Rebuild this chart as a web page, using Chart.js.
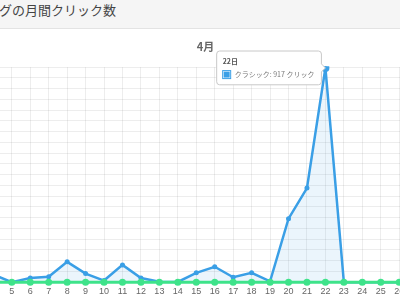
<!DOCTYPE html>
<html lang="ja">
<head>
<meta charset="UTF-8">
<title>ブログの月間クリック数</title>
<style>
  html, body { margin: 0; padding: 0; }
  body { width: 400px; height: 300px; overflow: hidden; position: relative; background: #fff;
         font-family: "Noto Sans CJK JP", "Noto Sans", sans-serif; }
  .panel-heading { position: absolute; left: 0; top: 0; width: 400px; height: 28px;
         background: #f5f5f5; border-bottom: 1px solid #e3e3e3; }
  .panel-heading h3 { position: absolute; left: -27px; top: 0; margin: 0; font-size: 13px;
         line-height: 19px; font-weight: normal; color: #444; white-space: nowrap; }
  #chart { position: absolute; left: -72px; top: 32px; }
</style>
<script src="https://cdn.jsdelivr.net/npm/chart.js"></script>
</head>
<body>
  <div class="panel-heading"><h3>ブログの月間クリック数</h3></div>
  <canvas id="chart" width="555" height="273"></canvas>

<script>
  // April, day by day
  const days = ['1','2','3','4','5','6','7','8','9','10','11','12','13','14','15',
                '16','17','18','19','20','21','22','23','24','25','26','27','28','29','30'];
  const classicClicks = [10, 5, 20, 33, 0, 18, 23, 87, 37, 7, 74, 18, 2, 1, 40,
                         66, 21, 40, 4, 272, 403, 917, 0, 0, 0, 0, 0, 0, 0, 0];
  const otherClicks = [0, 0, 0, 0, 0, 0, 0, 0, 0, 0, 0, 0, 0, 0, 0,
                       0, 0, 0, 0, 0, 0, 0, 0, 0, 0, 0, 0, 0, 0, 0];

  const blue = '#3a9fe6';
  const green = '#3ee38a';
  const gridColor = 'rgba(0,0,0,0.07)';
  const jp = '"Noto Sans CJK JP", sans-serif';

  const ctx = document.getElementById('chart').getContext('2d');
  const chart = new Chart(ctx, {
    type: 'line',
    data: {
      labels: days,
      datasets: [
        {
          label: 'その他',
          data: otherClicks,
          borderColor: green,
          backgroundColor: green,
          borderWidth: 3,
          pointRadius: 3.5,
          pointBorderWidth: 0,
          pointBackgroundColor: green,
          fill: false,
          tension: 0,
          clip: false
        },
        {
          label: 'クラシック',
          data: classicClicks,
          borderColor: blue,
          backgroundColor: 'rgba(58,159,230,0.1)',
          borderWidth: 2.5,
          pointRadius: 2.5,
          pointBorderWidth: 0,
          pointBackgroundColor: blue,
          pointHoverRadius: 4,
          pointHoverBorderWidth: 0,
          pointHoverBackgroundColor: blue,
          fill: 'origin',
          tension: 0,
          clip: { left: false, top: 1, right: false, bottom: false }
        }
      ]
    },
    options: {
      responsive: false,
      animation: false,
      layout: { padding: { left: 10, right: 10, top: 0, bottom: 4 } },
      plugins: {
        legend: { display: false },
        title: {
          display: true,
          text: '4月',
          color: '#666',
          font: { size: 11, weight: 'bold', family: jp },
          padding: { top: 8, bottom: 14 }
        },
        tooltip: {
          xAlign: 'right',
          yAlign: 'center',
          backgroundColor: '#fff',
          borderColor: '#c8c8c8',
          borderWidth: 1,
          cornerRadius: 3,
          caretSize: 4,
          caretPadding: 0,
          padding: { left: 6, right: 7, top: 6, bottom: 6 },
          titleColor: '#555',
          bodyColor: '#777',
          titleFont: { size: 7, weight: 'bold', family: jp },
          bodyFont: { size: 7, family: jp },
          titleMarginBottom: 5,
          boxWidth: 8,
          boxHeight: 8,
          boxPadding: 2,
          callbacks: {
            title: items => items[0].label + '日',
            label: item => item.dataset.label + ': ' + item.raw + ' クリック',
            labelColor: () => ({ borderColor: blue, backgroundColor: blue, borderWidth: 0 })
          }
        }
      },
      scales: {
        x: {
          grid: { color: gridColor, drawTicks: false },
          border: { display: false },
          ticks: { color: '#666', font: { size: 9 }, padding: 4, maxRotation: 0, autoSkip: false }
        },
        y: {
          min: 0,
          max: 920,
          grid: { color: gridColor, drawTicks: false },
          border: { display: false },
          ticks: { display: false, stepSize: 46 }
        }
      }
    }
  });

  // hovered point on the 22nd, as in the screenshot
  const active = [{ datasetIndex: 1, index: 21 }];
  const pt = chart.getDatasetMeta(1).data[21];
  chart.setActiveElements(active);
  chart.tooltip.setActiveElements(active, { x: pt.x, y: pt.y });
  chart.update();
</script>
</body>
</html>
